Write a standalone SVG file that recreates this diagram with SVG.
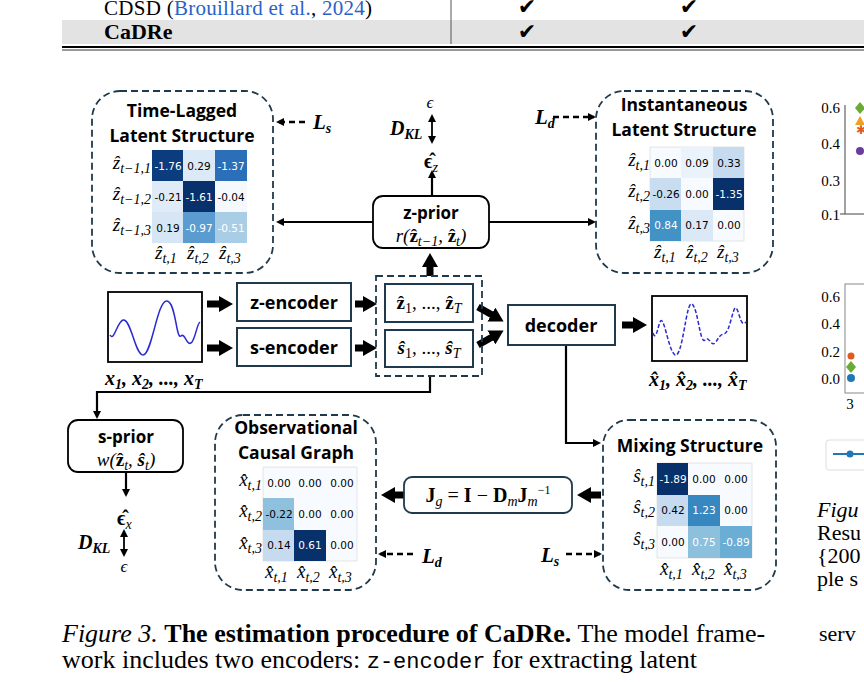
<svg xmlns="http://www.w3.org/2000/svg" width="864" height="682" viewBox="0 0 864 682">
<style>
.s{font-family:"Liberation Serif",serif}
.m{font-family:"Liberation Serif",serif;font-style:italic}
.h{font-family:"Open Sans","DejaVu Sans",sans-serif;font-weight:bold}
.c{font-family:"DejaVu Sans",sans-serif;font-size:10.5px;text-anchor:middle}
.w{fill:#fff}
.dash{fill:none;stroke:#1f3a4d;stroke-width:1.8;stroke-dasharray:7 4}
.box{fill:#fff;stroke:#1f3a4d;stroke-width:2}
.ln{fill:none;stroke:#000;stroke-width:2.2}
.th{fill:none;stroke:#000;stroke-width:7}
.ds{fill:none;stroke:#000;stroke-width:2.5;stroke-dasharray:6 4}
.lab{font-family:"Liberation Serif",serif;font-style:italic;font-size:21px;font-weight:bold}
.sb{font-size:14px}
</style>
<defs>
<marker id="a" markerWidth="8" markerHeight="8" refX="6" refY="4" orient="auto" markerUnits="userSpaceOnUse"><path d="M0,0 L8,4 L0,8 z"/></marker>
<marker id="b" markerWidth="8" markerHeight="8" refX="2" refY="4" orient="auto" markerUnits="userSpaceOnUse"><path d="M8,0 L0,4 L8,8 z"/></marker>
<marker id="T" markerWidth="14" markerHeight="16" refX="3" refY="8" orient="auto" markerUnits="userSpaceOnUse"><path d="M0,0 L14,8 L0,16 z"/></marker>
</defs>
<rect width="864" height="682" fill="#fff"/>
<g id="table">
<rect x="62" y="20" width="802" height="24" fill="#e3e3e3"/>
<line x1="451" y1="0" x2="451" y2="44" stroke="#555"/>
<text x="104" y="15" class="s" font-size="21" textLength="268">CDSD (<tspan fill="#2a62c9">Brouillard et al.</tspan>, <tspan fill="#2a62c9">2024</tspan>)</text>
<text x="104" y="39" class="s" font-size="22" font-weight="bold">CaDRe</text>
<g font-family="DejaVu Sans,sans-serif" font-size="22" font-style="italic" text-anchor="middle">
<text x="527" y="14">✔</text><text x="689" y="14">✔</text><text x="527" y="39">✔</text><text x="689" y="39">✔</text>
</g>
<line x1="62" y1="47" x2="864" y2="47" stroke="#000" stroke-width="2"/>
<line x1="62" y1="50" x2="864" y2="50" stroke="#000" stroke-width="0.8"/>
</g>
<g id="connectors">
<line x1="373" y1="222" x2="278" y2="222" class="ln" marker-end="url(#a)"/>
<line x1="489" y1="222" x2="594" y2="222" class="ln" marker-end="url(#a)"/>
<line x1="432" y1="196" x2="432" y2="172" class="ln" marker-end="url(#a)"/>
<line x1="432" y1="116" x2="432" y2="142" stroke="#000" stroke-width="1.8" marker-start="url(#b)" marker-end="url(#a)"/>
<line x1="305" y1="122" x2="278" y2="122" class="ds" marker-end="url(#a)"/>
<line x1="553" y1="117" x2="594" y2="117" class="ds" marker-end="url(#a)"/>
<line x1="207" y1="304" x2="222" y2="304" class="th" marker-end="url(#T)"/>
<line x1="207" y1="348" x2="222" y2="348" class="th" marker-end="url(#T)"/>
<line x1="355" y1="304" x2="366" y2="304" class="th" marker-end="url(#T)"/>
<line x1="355" y1="348" x2="366" y2="348" class="th" marker-end="url(#T)"/>
<line x1="430" y1="276" x2="430" y2="264" class="th" marker-end="url(#T)"/>
<line x1="478" y1="307" x2="494" y2="316" class="th" marker-end="url(#T)"/>
<line x1="478" y1="345" x2="494" y2="336" class="th" marker-end="url(#T)"/>
<line x1="622" y1="325" x2="636" y2="325" class="th" marker-end="url(#T)"/>
<polyline points="566,345 566,443 599,443" class="ln" marker-end="url(#a)"/>
<polyline points="430,376 430,392 97,392 97,417" class="ln" marker-end="url(#a)"/>
<line x1="126" y1="472" x2="126" y2="495" class="ln" marker-end="url(#a)"/>
<line x1="124" y1="531" x2="124" y2="555" stroke="#000" stroke-width="1.8" marker-start="url(#b)" marker-end="url(#a)"/>
<line x1="601" y1="495" x2="588" y2="495" class="th" marker-end="url(#T)"/>
<line x1="404" y1="495" x2="392" y2="495" class="th" marker-end="url(#T)"/>
<line x1="413" y1="554" x2="380" y2="554" class="ds" marker-end="url(#a)"/>
<line x1="566" y1="554" x2="600" y2="554" class="ds" marker-end="url(#a)"/>
</g>
<text x="313" y="129" class="lab">L<tspan class="sb" dy="4">s</tspan></text>
<text x="535" y="124" class="lab">L<tspan class="sb" dy="4">d</tspan></text>
<text x="422" y="563" class="lab">L<tspan class="sb" dy="4">d</tspan></text>
<text x="541" y="562" class="lab">L<tspan class="sb" dy="4">s</tspan></text>
<text x="430" y="108" class="m" font-size="17" text-anchor="middle">ϵ</text>
<text x="390" y="135" class="m" font-size="20" font-weight="bold">D<tspan class="sb" dy="4">KL</tspan></text>
<text x="424" y="168" class="s" font-size="20" font-weight="bold">ϵ̂<tspan class="sb" dy="4" font-weight="normal" font-style="italic">z</tspan></text>
<text x="117" y="525" class="s" font-size="20" font-weight="bold">ϵ̂<tspan class="sb" dy="4" font-weight="normal" font-style="italic">x</tspan></text>
<text x="78" y="549" class="m" font-size="20" font-weight="bold">D<tspan class="sb" dy="4">KL</tspan></text>
<text x="124" y="572" class="m" font-size="17" text-anchor="middle">ϵ</text>
<g id="timelagged">
<rect x="92" y="91" width="181" height="182" rx="28" class="dash"/>
<text x="182" y="117" class="h" font-size="17.5" text-anchor="middle">Time-Lagged</text>
<text x="182" y="142" class="h" font-size="17.5" text-anchor="middle">Latent Structure</text>
<g transform="translate(152,150)">
<rect x="0" y="0" width="31" height="31" fill="#0b3d7e"/><rect x="31" y="0" width="32" height="31" fill="#dce9f6"/><rect x="63" y="0" width="32" height="31" fill="#2a6fb8"/>
<rect x="0" y="31" width="31" height="31" fill="#dfebf7"/><rect x="31" y="31" width="32" height="31" fill="#08306b"/><rect x="63" y="31" width="32" height="31" fill="#f5f9fe"/>
<rect x="0" y="62" width="31" height="31" fill="#d6e6f4"/><rect x="31" y="62" width="32" height="31" fill="#5b9cd0"/><rect x="63" y="62" width="32" height="31" fill="#a9cde5"/>
<text x="16" y="20" class="c w">-1.76</text><text x="47" y="20" class="c">0.29</text><text x="79" y="20" class="c w">-1.37</text>
<text x="16" y="51" class="c">-0.21</text><text x="47" y="51" class="c w">-1.61</text><text x="79" y="51" class="c">-0.04</text>
<text x="16" y="82" class="c">0.19</text><text x="47" y="82" class="c w">-0.97</text><text x="79" y="82" class="c w">-0.51</text>
</g>
<g class="m" font-size="19" text-anchor="end">
<text x="151" y="169">ẑ<tspan class="sb" dy="4">t−1,1</tspan></text>
<text x="151" y="200">ẑ<tspan class="sb" dy="4">t−1,2</tspan></text>
<text x="151" y="231">ẑ<tspan class="sb" dy="4">t−1,3</tspan></text>
</g>
<g class="m" font-size="19">
<text x="155" y="259">ẑ<tspan class="sb" dy="4">t,1</tspan></text>
<text x="187" y="259">ẑ<tspan class="sb" dy="4">t,2</tspan></text>
<text x="219" y="259">ẑ<tspan class="sb" dy="4">t,3</tspan></text>
</g>
</g>
<g id="instantaneous">
<rect x="596" y="91" width="177" height="182" rx="28" class="dash"/>
<text x="684" y="111" class="h" font-size="17.5" text-anchor="middle">Instantaneous</text>
<text x="684" y="136" class="h" font-size="17.5" text-anchor="middle">Latent Structure</text>
<g transform="translate(650,147)">
<rect width="94" height="94" fill="#f7fbff" stroke="#ccc" stroke-width="0.5"/>
<rect x="31" y="0" width="32" height="31" fill="#eaf3fb"/><rect x="63" y="0" width="31" height="31" fill="#c6dbef"/>
<rect x="0" y="31" width="31" height="32" fill="#c9ddf0"/><rect x="63" y="31" width="31" height="32" fill="#08306b"/>
<rect x="0" y="63" width="31" height="31" fill="#4292c6"/><rect x="31" y="63" width="32" height="31" fill="#dbe9f6"/>
<text x="16" y="20" class="c">0.00</text><text x="47" y="20" class="c">0.09</text><text x="79" y="20" class="c">0.33</text>
<text x="16" y="51" class="c">-0.26</text><text x="47" y="51" class="c">0.00</text><text x="79" y="51" class="c w">-1.35</text>
<text x="16" y="82" class="c w">0.84</text><text x="47" y="82" class="c">0.17</text><text x="79" y="82" class="c">0.00</text>
</g>
<g class="m" font-size="19" text-anchor="end">
<text x="650" y="166">ẑ<tspan class="sb" dy="4">t,1</tspan></text>
<text x="650" y="197">ẑ<tspan class="sb" dy="4">t,2</tspan></text>
<text x="650" y="229">ẑ<tspan class="sb" dy="4">t,3</tspan></text>
</g>
<g class="m" font-size="19">
<text x="654" y="258">ẑ<tspan class="sb" dy="4">t,1</tspan></text>
<text x="686" y="258">ẑ<tspan class="sb" dy="4">t,2</tspan></text>
<text x="717" y="258">ẑ<tspan class="sb" dy="4">t,3</tspan></text>
</g>
</g>
<g id="zprior">
<rect x="373" y="196" width="116" height="52" rx="10" fill="#fff" stroke="#000" stroke-width="1.8"/>
<text x="431" y="219" class="h" font-size="17" text-anchor="middle">z-prior</text>
<text x="431" y="242" class="m" font-size="19" text-anchor="middle">r(<tspan font-weight="bold" font-style="normal">ẑ</tspan><tspan class="sb" dy="4">t−1</tspan><tspan dy="-4">, </tspan><tspan font-weight="bold" font-style="normal">ẑ</tspan><tspan class="sb" dy="4">t</tspan><tspan dy="-4">)</tspan></text>
</g>
<g id="input">
<rect x="108" y="292" width="94" height="70" fill="#fff" stroke="#000" stroke-width="1.8"/>
<path d="M110,335 C114,342 117,322 123,320 C131,318 135,355 143,355 C152,355 157,300 167,301 C176,302 176,340 181,336 C185,332 187,348 192,342 C196,336 197,324 200,322" fill="none" stroke="#2b2bd0" stroke-width="1.5"/>
<text x="105" y="385" class="m" font-size="20" font-weight="bold">x<tspan class="sb" dy="4">1</tspan><tspan dy="-4">, x</tspan><tspan class="sb" dy="4">2</tspan><tspan dy="-4">, ..., x</tspan><tspan class="sb" dy="4">T</tspan></text>
</g>
<g id="zencoder"><rect x="237" y="283" width="114" height="38" class="box"/><text x="294" y="309" class="h" font-size="18" text-anchor="middle">z-encoder</text></g>
<g id="sencoder"><rect x="237" y="328" width="114" height="38" class="box"/><text x="294" y="354" class="h" font-size="18" text-anchor="middle">s-encoder</text></g>
<g id="latents">
<rect x="376" y="276" width="106" height="100" class="dash"/>
<rect x="385" y="284" width="88" height="38" class="box"/>
<rect x="385" y="330" width="88" height="37" class="box"/>
<text x="429" y="309" class="s" font-size="19" text-anchor="middle"><tspan font-weight="bold">ẑ</tspan><tspan class="sb" dy="4">1</tspan><tspan dy="-4">, ..., </tspan><tspan font-weight="bold">ẑ</tspan><tspan class="sb" dy="4" font-style="italic">T</tspan></text>
<text x="429" y="354" class="s" font-size="19" text-anchor="middle"><tspan font-weight="bold" font-style="italic">ŝ</tspan><tspan class="sb" dy="4">1</tspan><tspan dy="-4">, ..., </tspan><tspan font-weight="bold" font-style="italic">ŝ</tspan><tspan class="sb" dy="4" font-style="italic">T</tspan></text>
</g>
<g id="decoder"><rect x="508" y="305" width="107" height="40" class="box"/><text x="561" y="332" class="h" font-size="18" text-anchor="middle">decoder</text></g>
<g id="output">
<rect x="652" y="296" width="95" height="65" fill="#fff" stroke="#000" stroke-width="1.8"/>
<path d="M653,333 C656,342 658,326 660,322 C664,313 668,350 675,355 C683,358 686,300 692,304 C698,308 700,345 705,340 C709,335 711,347 715,343 C719,338 719,335 724,334 C730,333 733,305 736,308 C740,312 740,328 746,322" fill="none" stroke="#2b2bd0" stroke-width="1.5" stroke-dasharray="4 2"/>
<text x="649" y="386" class="m" font-size="20" font-weight="bold">x̂<tspan class="sb" dy="4">1</tspan><tspan dy="-4">, x̂</tspan><tspan class="sb" dy="4">2</tspan><tspan dy="-4">, ..., x̂</tspan><tspan class="sb" dy="4">T</tspan></text>
</g>
<g id="sprior">
<rect x="68" y="420" width="115" height="52" rx="10" fill="#fff" stroke="#000" stroke-width="1.8"/>
<text x="126" y="443" class="h" font-size="17" text-anchor="middle">s-prior</text>
<text x="126" y="466" class="m" font-size="19" text-anchor="middle">w(<tspan font-weight="bold" font-style="normal">ẑ</tspan><tspan class="sb" dy="4">t</tspan><tspan dy="-4">, </tspan><tspan font-weight="bold">ŝ</tspan><tspan class="sb" dy="4">t</tspan><tspan dy="-4">)</tspan></text>
</g>
<g id="observational">
<rect x="215" y="415" width="161" height="175" rx="28" class="dash"/>
<text x="296" y="434" class="h" font-size="17.5" text-anchor="middle">Observational</text>
<text x="296" y="459" class="h" font-size="17.5" text-anchor="middle">Causal Graph</text>
<g transform="translate(263,467)">
<rect width="94" height="94" fill="#f7fbff" stroke="#ccc" stroke-width="0.5"/>
<rect x="0" y="31" width="31" height="32" fill="#8fc0de"/>
<rect x="0" y="63" width="31" height="31" fill="#c6dbef"/><rect x="31" y="63" width="32" height="31" fill="#08306b"/>
<text x="16" y="20" class="c">0.00</text><text x="47" y="20" class="c">0.00</text><text x="79" y="20" class="c">0.00</text>
<text x="16" y="51" class="c">-0.22</text><text x="47" y="51" class="c">0.00</text><text x="79" y="51" class="c">0.00</text>
<text x="16" y="82" class="c">0.14</text><text x="47" y="82" class="c w">0.61</text><text x="79" y="82" class="c">0.00</text>
</g>
<g class="m" font-size="19" text-anchor="end">
<text x="262" y="486">x̂<tspan class="sb" dy="4">t,1</tspan></text>
<text x="262" y="517">x̂<tspan class="sb" dy="4">t,2</tspan></text>
<text x="262" y="549">x̂<tspan class="sb" dy="4">t,3</tspan></text>
</g>
<g class="m" font-size="19">
<text x="265" y="578">x̂<tspan class="sb" dy="4">t,1</tspan></text>
<text x="297" y="578">x̂<tspan class="sb" dy="4">t,2</tspan></text>
<text x="329" y="578">x̂<tspan class="sb" dy="4">t,3</tspan></text>
</g>
</g>
<g id="jg">
<rect x="404" y="477" width="168" height="36" rx="8" fill="#fff" stroke="#1f3a4d" stroke-width="1.8"/>
<text x="488" y="502" class="s" font-size="20" text-anchor="middle" font-weight="bold">J<tspan class="sb" dy="4" font-style="italic" font-weight="normal">g</tspan><tspan dy="-4" font-weight="normal"> = </tspan>I<tspan font-weight="normal">  −  </tspan>D<tspan class="sb" dy="4" font-style="italic" font-weight="normal">m</tspan><tspan dy="-4">J</tspan><tspan class="sb" dy="4" font-style="italic" font-weight="normal">m</tspan><tspan font-size="12" dy="-12" font-weight="normal">−1</tspan></text>
</g>
<g id="mixing">
<rect x="603" y="420" width="173" height="170" rx="26" class="dash"/>
<text x="690" y="452" class="h" font-size="17.5" text-anchor="middle">Mixing Structure</text>
<g transform="translate(657,463)">
<rect width="95" height="95" fill="#f7fbff" stroke="#ccc" stroke-width="0.5"/>
<rect x="0" y="0" width="31" height="32" fill="#08306b"/>
<rect x="0" y="32" width="31" height="31" fill="#c6dbef"/><rect x="31" y="32" width="32" height="31" fill="#3787c0"/>
<rect x="31" y="63" width="32" height="32" fill="#8dc0dd"/><rect x="63" y="63" width="32" height="32" fill="#6aaed6"/>
<text x="16" y="20" class="c w">-1.89</text><text x="47" y="20" class="c">0.00</text><text x="79" y="20" class="c">0.00</text>
<text x="16" y="51" class="c">0.42</text><text x="47" y="51" class="c w">1.23</text><text x="79" y="51" class="c">0.00</text>
<text x="16" y="83" class="c">0.00</text><text x="47" y="83" class="c w">0.75</text><text x="79" y="83" class="c w">-0.89</text>
</g>
<g class="m" font-size="19" text-anchor="end">
<text x="655" y="482">ŝ<tspan class="sb" dy="4">t,1</tspan></text>
<text x="655" y="513">ŝ<tspan class="sb" dy="4">t,2</tspan></text>
<text x="655" y="545">ŝ<tspan class="sb" dy="4">t,3</tspan></text>
</g>
<g class="m" font-size="19">
<text x="660" y="575">x̂<tspan class="sb" dy="4">t,1</tspan></text>
<text x="692" y="575">x̂<tspan class="sb" dy="4">t,2</tspan></text>
<text x="724" y="575">x̂<tspan class="sb" dy="4">t,3</tspan></text>
</g>
</g>
<text x="62" y="642" class="s" font-size="26"><tspan font-style="italic">Figure 3.</tspan> <tspan font-weight="bold">The estimation procedure of CaDRe.</tspan> The model frame-</text>
<text x="62" y="668" class="s" font-size="26">work includes two encoders: <tspan font-family="Liberation Mono,monospace" font-size="22">z-encoder</tspan> for extracting latent</text>
<g id="rightfig" class="s" font-size="15" text-anchor="end">
<line x1="845" y1="105" x2="845" y2="214" stroke="#444"/>
<line x1="840" y1="214" x2="864" y2="214" stroke="#444"/>
<text x="840" y="113">0.6</text><text x="840" y="149">0.4</text><text x="840" y="186">0.3</text><text x="840" y="220">0.1</text>
<path d="M860,102 l5,6 l-5,6 l-5,-6z" fill="#6aaa35"/>
<path d="M860,116 l5,9 h-10z" fill="#f0a020"/>
<text x="861" y="134" fill="#e05a20" text-anchor="middle" font-size="12">✱</text>
<circle cx="860" cy="151" r="4" fill="#6a3d9a"/>
<rect x="845" y="284" width="25" height="109" fill="none" stroke="#888"/>
<text x="840" y="302">0.6</text><text x="840" y="329">0.4</text><text x="840" y="357">0.2</text><text x="840" y="384">0.0</text>
<text x="850" y="409" text-anchor="middle">3</text>
<circle cx="851" cy="378" r="4" fill="#1f77b4"/>
<path d="M851,361 l5,6 l-5,6 l-5,-6z" fill="#6aaa35"/>
<circle cx="851" cy="356" r="3.5" fill="#e05a20"/>
<rect x="826" y="440" width="45" height="30" rx="3" fill="none" stroke="#ddd"/>
<line x1="833" y1="454" x2="864" y2="454" stroke="#1f77b4" stroke-width="2"/>
<circle cx="850" cy="454" r="3.5" fill="#1f77b4"/>
</g>
<g class="s" font-size="22">
<text x="817" y="517" font-style="italic">Figu</text>
<text x="817" y="540">Resu</text>
<text x="817" y="563">{200</text>
<text x="817" y="586">ple s</text>
<text x="819" y="641">serv</text>
</g>
</svg>
